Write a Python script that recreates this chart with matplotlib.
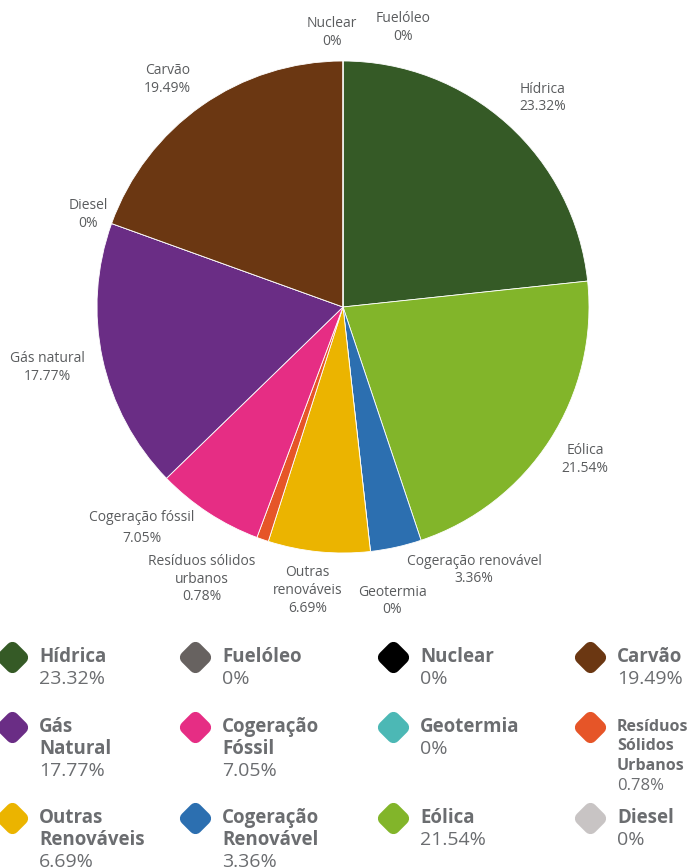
import numpy as np
import matplotlib
matplotlib.use("Agg")
import matplotlib.pyplot as plt
from matplotlib.markers import MarkerStyle

# Pie data, clockwise from 12 o'clock
pie_labels = ["Hídrica", "Eólica", "Cogeração renovável", "Geotermia",
              "Outras\nrenováveis", "Resíduos sólidos\nurbanos", "Cogeração fóssil",
              "Gás natural", "Diesel", "Carvão", "Nuclear", "Fuelóleo"]
pie_values = [23.32, 21.54, 3.36, 0, 6.69, 0.78, 7.05, 17.77, 0, 19.49, 0, 0]
pie_texts = ["23.32%", "21.54%", "3.36%", "0%", "6.69%", "0.78%", "7.05%",
             "17.77%", "0%", "19.49%", "0%", "0%"]
pie_colors = ["#355a26", "#82b52a", "#2c6fb0", "#4cb8b5", "#ebb400", "#e65528",
              "#e62d84", "#6a2d85", "#c8c4c4", "#6b3712", "#000000", "#676260"]

# Legend data, row by row (4 columns)
legend_names = ["Hídrica", "Fuelóleo", "Nuclear", "Carvão",
                "Gás\nNatural", "Cogeração\nFóssil", "Geotermia", "Resíduos\nSólidos\nUrbanos",
                "Outras\nRenováveis", "Cogeração\nRenovável", "Eólica", "Diesel"]
legend_texts = ["23.32%", "0%", "0%", "19.49%",
                "17.77%", "7.05%", "0%", "0.78%",
                "6.69%", "3.36%", "21.54%", "0%"]
legend_colors = ["#355a26", "#676260", "#000000", "#6b3712",
                 "#6a2d85", "#e62d84", "#4cb8b5", "#e65528",
                 "#ebb400", "#2c6fb0", "#82b52a", "#c8c4c4"]

W, H = 694, 868
fig = plt.figure(figsize=(W / 100, H / 100), dpi=100)
ax = fig.add_axes([0, 0, 1, 1])

FONT = "Open Sans"
label_col = "#5a5c5e"
legend_col = "#6b6d70"

# pie, in pixel coords (y measured from the bottom)
cx, cy, R = 343, H - 307, 246
ax.pie(pie_values, colors=pie_colors, startangle=90, counterclock=False,
       center=(cx, cy), radius=R, frame=True,
       wedgeprops=dict(edgecolor="white", linewidth=0.6))
ax.set_xlim(0, W)
ax.set_ylim(0, H)
ax.set_axis_off()

# label nudges (px, right / down) to avoid overlaps
nudges = {"Hídrica": (7, 5), "Eólica": (0, -3), "Cogeração renovável": (69, -18),
          "Geotermia": (17, 8), "Outras\nrenováveis": (-7, -3),
          "Resíduos sólidos\nurbanos": (-47, 0), "Cogeração fóssil": (-44, -20),
          "Gás natural": (-14, 0), "Diesel": (16, 5), "Carvão": (-10, 8),
          "Nuclear": (-11, 13), "Fuelóleo": (60, 8)}

total = sum(pie_values)
cum = 0.0
for name, v, t in zip(pie_labels, pie_values, pie_texts):
    mid = 90 - (cum + v / 2) / total * 360
    cum += v
    a = np.deg2rad(mid)
    lx = cx + 1.17 * R * np.cos(a)
    ly = cy + 1.17 * R * np.sin(a)
    dx, dy = nudges[name]
    ls = 1.6 if name == "Cogeração fóssil" else 1.25
    ax.text(lx + dx, ly - dy, name + "\n" + t, ha="center", va="center",
            fontsize=10, color=label_col, family=FONT, linespacing=ls)

# legend grid
col_x = [39, 222, 420, 617]
row_y = [657, 727, 818]
diamond = MarkerStyle("D", joinstyle="round")
for i, (name, val, c) in enumerate(zip(legend_names, legend_texts, legend_colors)):
    r, k = divmod(i, 4)
    x0, y0 = col_x[k], row_y[r]
    ax.plot(x0 - 27, H - y0, marker=diamond, markersize=9, color=c,
            markeredgecolor=c, markeredgewidth=9.5)
    lines = name.split("\n")
    small = len(lines) > 2
    lh = 19.5 if small else 22
    fs = 11.5 if small else 13.5
    for j, ln in enumerate(lines):
        ax.text(x0, H - (y0 + j * lh), ln, ha="left", va="center",
                fontsize=fs, fontweight="bold", color=legend_col, family=FONT)
    ax.text(x0, H - (y0 + len(lines) * lh), val, ha="left", va="center",
            fontsize=fs + 0.5, color=legend_col, family=FONT)

fig.savefig("out.png", dpi=100)
